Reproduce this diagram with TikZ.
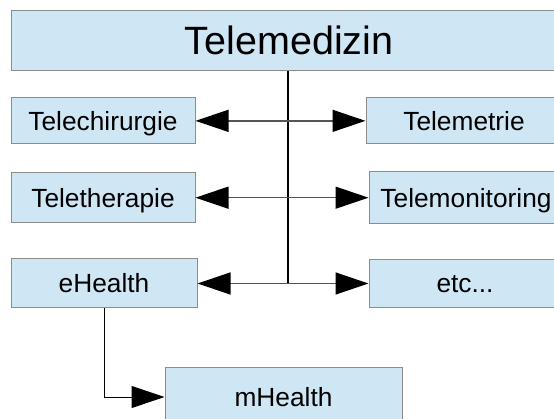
\documentclass[tikz,border=0pt]{standalone}
\usepackage{fontspec}
\setmainfont{Liberation Sans}
\usetikzlibrary{arrows.meta}
\definecolor{boxfill}{HTML}{CFE6F4}
\definecolor{boxline}{HTML}{8C8C8C}
\definecolor{conn}{HTML}{555555}
\begin{document}
\begin{tikzpicture}[x=1pt,y=-1pt,
  box/.style={draw=boxline,fill=boxfill,line width=1pt,inner sep=0pt,rectangle,
    font=\fontsize{26.3}{29}\selectfont,text height=18.8pt,text depth=0pt},
  hconn/.style={draw=conn,line width=1.4pt,{Triangle[length=33pt,width=22pt,color=black]}-{Triangle[length=33pt,width=22pt,color=black]}},
]
\useasboundingbox (0,0) rectangle (554,419);
\clip (0,0) rectangle (554,419);
\node[box,minimum width=556pt,minimum height=60.3pt,font=\fontsize{39.5}{44}\selectfont,text height=28.3pt] (top) at (289,40.85) {Telemedizin};
\node[box,minimum width=184pt,minimum height=46.3pt] (tc) at (103,120.85) {Telechirurgie};
\node[box,minimum width=196pt,minimum height=46.3pt] (tm) at (464,120.85) {Telemetrie};
\node[box,minimum width=184pt,minimum height=50pt] (tt) at (103,197.7) {Teletherapie};
\node[box,minimum width=194pt,minimum height=52.3pt] (tmo) at (466,197.7) {Telemonitoring};
\node[box,minimum width=186pt,minimum height=49pt] (eh) at (104,283.5) {eHealth};
\node[box,minimum width=192pt,minimum height=47.4pt] (etc) at (465,283.5) {etc...};
\node[box,minimum width=237pt,minimum height=58pt] (mh) at (283.5,397) {mHealth};
\coordinate (j) at (287.7,283.7);
\draw[black,line width=2pt] (j |- top.south) -- (j);
\draw[hconn] (tc.east) -- (tm.west);
\draw[hconn] (tt.east) -- (tmo.west);
\draw[hconn] (eh.east) -- (etc.west);
\draw[black,line width=1pt,-{Triangle[length=33pt,width=22pt,color=black]}] (eh.south) |- (mh.west);
\end{tikzpicture}
\end{document}
